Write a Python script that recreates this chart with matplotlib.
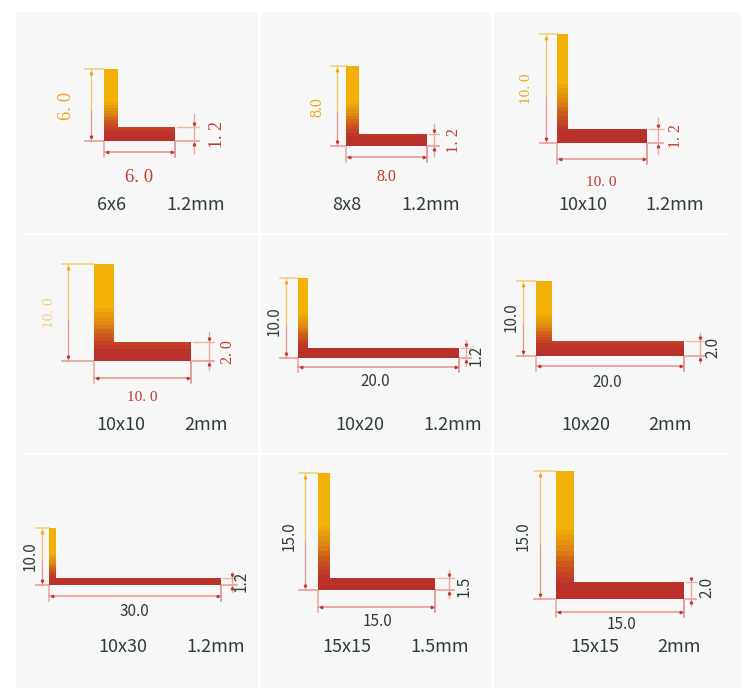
import numpy as np
import matplotlib
matplotlib.use("Agg")
import matplotlib.pyplot as plt
from matplotlib.colors import LinearSegmentedColormap
from matplotlib.patches import Polygon, Rectangle

# profile sizes in mm
leg_h = [6.0, 8.0, 10.0, 10.0, 10.0, 10.0, 10.0, 15.0, 15.0]
leg_w = [6.0, 8.0, 10.0, 10.0, 20.0, 20.0, 30.0, 15.0, 15.0]
thick = [1.2, 1.2, 1.2, 2.0, 1.2, 2.0, 1.2, 1.5, 2.0]
size_labels = ["6x6", "8x8", "10x10", "10x10", "10x20", "10x20", "10x30", "15x15", "15x15"]
thick_labels = ["1.2mm", "1.2mm", "1.2mm", "2mm", "1.2mm", "2mm", "1.2mm", "1.5mm", "2mm"]
h_text = ["6. 0", "8.0", "10. 0", "10. 0", "10.0", "10.0", "10.0", "15.0", "15.0"]
w_text = ["6. 0", "8.0", "10. 0", "10. 0", "20.0", "20.0", "30.0", "15.0", "15.0"]
t_text = ["1. 2", "1. 2", "1. 2", "2. 0", "1.2", "2.0", "1.2", "1.5", "2.0"]

# layout, pixels
x0 = [104, 346.3, 557.3, 94, 297.7, 536, 48.7, 317.7, 555.7]
y0 = [140.7, 146, 142.7, 360.7, 358.3, 355.7, 585, 590, 599.3]
kx = [11.9, 10.05, 9.0, 9.7, 8.06, 7.4, 5.73, 7.82, 8.55]
ky = [11.9, 10.0, 10.84, 9.64, 8.03, 7.47, 5.7, 7.78, 8.55]
web_px = [14, 12.7, 11, 20, 10, 15.5, 7, 12.3, 18]
flange_px = [14, 11.7, 13.3, 19, 10, 15, 7, 12, 17.5]
vdim_x = [91, 336.7, 545.7, 68.3, 286.3, 522.7, 41.7, 304.7, 539.7]
wdim_y = [152.3, 156.7, 159.3, 377.7, 366.7, 366, 596, 607.3, 612.3]
tdim_x = [194.3, 434, 657.7, 208.7, 466, 700, 232.3, 448.7, 691.3]
tdim_over = [13, 10, 11, 10, 8, 8, 6, 8, 4]
tdim_under = [12, 10, 11, 9, 8, 7, 7, 8, 7]
h_pos = [(66.7, 106), (317, 106.7), (527, 88.3), (49.3, 312.7), (274, 321), (510.7, 316.7), (30, 556), (289, 536), (523, 536)]
w_pos = [(139, 177), (386, 177), (601.7, 182.3), (142.7, 397.7), (375.7, 381.7), (607.3, 382.3), (134.7, 611.7), (377.7, 621.7), (621.7, 624.7)]
t_pos = [(218, 134), (454, 140.7), (675.7, 136), (228, 351.7), (476, 355.7), (713, 347.3), (240.7, 581.7), (464, 586.7), (706.7, 587)]
size_pos = [(112, 204.5), (347, 204.5), (582.5, 204.5), (121, 425), (360, 425), (586, 425), (122.7, 647.3), (346.7, 647.3), (595, 647.3)]
thick_pos = [(195.5, 204.5), (431, 204.5), (674.5, 204.5), (206.5, 425), (452.5, 425), (670.5, 425), (215.7, 647.3), (439.3, 647.3), (679.3, 647.3)]
serif_size = [[13.5, 13.5, 13], [11.5, 11.5, 12], [11, 11, 11.5], [11, 11, 11.5]]

cmap = LinearSegmentedColormap.from_list("alu", [
    (0.0, "#f3b007"), (0.45, "#f3b007"), (0.62, "#de8515"), (0.76, "#c9541f"),
    (0.9, "#bc332a"), (1.0, "#ba2f2c")])
ramp = np.linspace(0, 1, 24).reshape(-1, 1)

ORANGE = "#efa51e"
RED = "#bf3a30"
DARK = "#2f3d39"
EXT_RED = "#e9a6a3"
EXT_ORANGE = "#f6cd78"

fig = plt.figure(figsize=(7.55, 6.91), dpi=100, facecolor="white")
ax = fig.add_axes([0, 0, 1, 1])

ax.add_patch(Rectangle((16, 12), 725, 676, fc="#f7f7f7", ec="none"))
ax.plot([258.5, 258.5], [12, 688], color="white", lw=2)
ax.plot([492, 492], [12, 688], color="white", lw=2)
ax.plot([27, 727], [234, 234], color="white", lw=1.6)
ax.plot([27, 727], [454, 454], color="white", lw=1.6)

for i in range(9):
    left = x0[i]
    right = left + leg_w[i] * kx[i]
    bottom = y0[i]
    top = bottom - leg_h[i] * ky[i]
    web = left + web_px[i]
    inner = bottom - flange_px[i]

    outline = [(left, top), (web, top), (web, inner), (right, inner), (right, bottom), (left, bottom)]
    im = ax.imshow(ramp, cmap=cmap, extent=(left, right, bottom, top), aspect="auto",
                   vmin=0, vmax=1, interpolation="nearest", zorder=3)
    im.set_clip_path(Polygon(outline, transform=ax.transData))

    # height dimension, orange at the top and red at the bottom
    vx = vdim_x[i]
    mid = top + (bottom - top) * 0.58
    ax.plot([vx - 6, left], [top, top], color=EXT_ORANGE, lw=1.1, zorder=2)
    ax.plot([vx - 6, left], [bottom, bottom], color=EXT_RED, lw=1.3, zorder=2)
    ax.plot([vx, vx], [top, mid], color="#f5c560", lw=0.9, zorder=2)
    ax.plot([vx, vx], [mid, bottom], color="#dd9a94", lw=0.9, zorder=2)
    ax.plot([vx], [top + 4], marker="^", ms=1.8, color=ORANGE, zorder=3)
    ax.plot([vx], [bottom - 4], marker="v", ms=1.8, color=RED, zorder=3)

    # width dimension
    wy = wdim_y[i]
    ax.plot([left, left], [bottom, wy + 5], color=EXT_RED, lw=1.1, zorder=2)
    ax.plot([right, right], [bottom, wy + 5], color="#d98883", lw=1.1, zorder=2)
    ax.plot([left, right], [wy, wy], color="#e39a96", lw=1.2, zorder=2)
    ax.plot([left + 3], [wy], marker="<", ms=1.8, color=RED, zorder=3)
    ax.plot([right - 3], [wy], marker=">", ms=1.8, color=RED, zorder=3)

    # thickness dimension
    tx = tdim_x[i]
    ax.plot([right + 2, tx + 5], [inner, inner], color="#eeb9a0", lw=1.0, zorder=2)
    ax.plot([right + 2, tx + 5], [bottom, bottom], color=EXT_RED, lw=1.3, zorder=2)
    ax.plot([tx, tx], [inner - tdim_over[i], bottom + tdim_under[i]], color=EXT_RED, lw=1.0, zorder=2)
    ax.plot([tx], [inner - 3], marker="v", ms=1.8, color=RED, zorder=3)
    ax.plot([tx], [bottom + 3], marker="^", ms=1.8, color=RED, zorder=3)

    # the first four profiles have serif red/orange numbers
    if i < 4:
        h_color = "#f3cb86" if i == 3 else ORANGE
        ax.text(*h_pos[i], h_text[i], rotation=90, ha="center", va="center",
                family="Liberation Serif", fontsize=serif_size[i][0], color=h_color)
        ax.text(*w_pos[i], w_text[i], ha="center", va="center",
                family="Liberation Serif", fontsize=serif_size[i][1], color=RED)
        ax.text(*t_pos[i], t_text[i], rotation=90, ha="center", va="center",
                family="Liberation Serif", fontsize=serif_size[i][2], color=RED)
    else:
        ax.text(*h_pos[i], h_text[i], rotation=90, ha="center", va="center",
                family="Noto Sans CJK SC", fontsize=11, color=DARK)
        ax.text(*w_pos[i], w_text[i], ha="center", va="center",
                family="Noto Sans CJK SC", fontsize=11, color=DARK)
        ax.text(*t_pos[i], t_text[i], rotation=90, ha="center", va="center",
                family="Noto Sans CJK SC", fontsize=11, color=DARK)

    ax.text(*size_pos[i], size_labels[i], ha="center", va="center",
            family="Noto Sans CJK SC", fontsize=13, color=DARK)
    ax.text(*thick_pos[i], thick_labels[i], ha="center", va="center",
            family="Noto Sans CJK SC", fontsize=13, color=DARK)

ax.set_xlim(0, 755)
ax.set_ylim(691, 0)
ax.axis("off")
fig.savefig("out.png", dpi=100)
